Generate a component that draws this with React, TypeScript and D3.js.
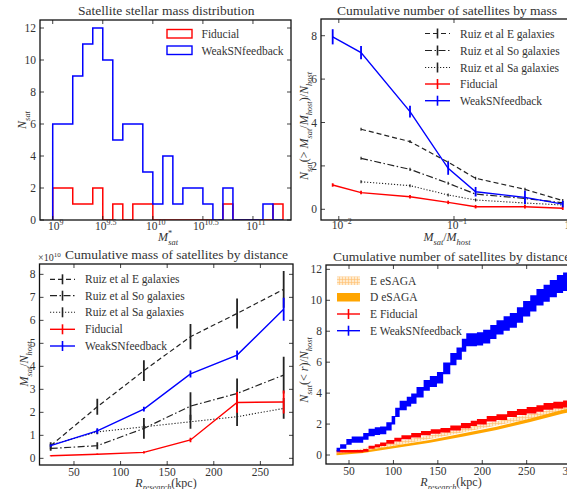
import React from 'react';
import * as d3 from 'd3';

// ---------- panel 1: satellite stellar mass histogram (bin edges as log10 M)
const histEdgeExp = [9.0, 9.1, 9.2, 9.3, 9.4, 9.5, 9.6, 9.7, 9.8, 9.9, 10.0, 10.1, 10.2, 10.3, 10.4, 10.5, 10.6, 10.7, 10.8, 10.9, 11.0, 11.1, 11.2, 11.3];
const histFiducial = [2, 2, 1, 1, 2, 0, 1, 0, 1, 1, 0, 0, 0, 0, 0, 0, 0, 1, 0, 0, 0, 0, 1];
const histWeakSN = [6, 6, 9, 11, 12, 10, 5, 6, 6, 3, 1, 4, 1, 2, 2, 1, 0, 2, 0, 0, 0, 1, 0];
const massTickExp = ['9', '9.5', '10', '10.5', '11'];
const histYTicks = [0, 2, 4, 6, 8, 10, 12];

// ---------- panel 2: cumulative number by mass ratio
const massRatio = [0.00885, 0.0156, 0.0415, 0.089, 0.154, 0.413, 0.879];
const cumWeakSN = [7.95, 7.22, 4.5, 1.89, 0.81, 0.55, 0.24];
const cumWeakSNErr = [0.35, 0.3, 0.27, 0.3, 0.22, 0.3, 0.15];
const cumFiducial = [1.12, 0.77, 0.58, 0.32, 0.12, 0.12, 0.05];
const cumFiducialErr = [0.08, 0.08, 0.08, 0.08, 0.08, 0.08, 0.08];
const ruizMassRatio = [0.0156, 0.0415, 0.089, 0.154, 0.413, 0.879];
const cumRuizE = [3.69, 3.12, 2.17, 1.43, 0.92, 0.4];
const cumRuizSo = [2.35, 1.84, 1.2, 0.7, 0.5, 0.3];
const cumRuizSa = [1.27, 1.09, 0.66, 0.43, 0.29, 0.2];
const cumRuizErr = [0.07, 0.07, 0.07, 0.07, 0.07, 0.07];
const ratioTicks = [0.01, 0.1, 1];
const ratioTickExp = ['\u22122', '\u22121', '0'];
const cumYTicks = [0, 2, 4, 6, 8];

// ---------- panel 3: cumulative mass by distance (units of 1e10)
const distBins = [25, 75, 125, 175, 225, 275];
const massRuizE = [0.55, 2.24, 3.81, 5.29, 6.3, 7.35];
const massRuizEErr = [0.15, 0.35, 0.45, 0.55, 0.65, 0.8];
const massRuizSo = [0.43, 0.55, 1.3, 2.27, 2.82, 3.62];
const massRuizSoErr = [0.1, 0.15, 0.45, 0.6, 0.65, 0.8];
const massRuizSa = [0.58, 1.15, 1.37, 1.59, 1.81, 2.17];
const massRuizSaErr = [0.05, 0.1, 0.1, 0.3, 0.4, 0.45];
const massWeakSN = [0.55, 1.19, 2.14, 3.67, 4.49, 6.48];
const massWeakSNErr = [0.05, 0.12, 0.1, 0.15, 0.2, 0.5];
const massFiducial = [0.11, 0.18, 0.26, 0.8, 2.43, 2.45];
const massFiducialErr = [0.02, 0.03, 0.05, 0.1, 0.45, 0.5];
const massYTicks = [0, 1, 2, 3, 4, 5, 6, 7, 8];
const distTicks3 = [50, 100, 150, 200, 250];

// ---------- panel 4: cumulative number by distance
const rWeakSN = [36, 40, 47, 53, 60, 66, 72, 79, 85, 92, 98, 102, 107, 115, 120, 126, 134, 141, 149, 156, 164, 171, 177, 182, 188, 194, 201, 209, 216, 224, 231, 239, 246, 254, 261, 269, 276, 284, 291, 300];
const nWeakSN = [0.35, 0.55, 0.85, 1.0, 1.0, 1.2, 1.45, 1.55, 1.6, 1.85, 2.25, 2.75, 3.2, 3.45, 3.65, 4.05, 4.5, 4.75, 5.0, 5.6, 6.2, 6.55, 7.1, 7.45, 7.45, 7.5, 7.65, 7.95, 8.25, 8.5, 8.7, 9.05, 9.45, 9.8, 10.2, 10.45, 10.75, 11.05, 11.2, 11.3];
const nWeakSNErr = [0.12, 0.15, 0.18, 0.2, 0.2, 0.22, 0.24, 0.25, 0.25, 0.27, 0.28, 0.3, 0.3, 0.32, 0.33, 0.34, 0.35, 0.36, 0.37, 0.38, 0.4, 0.4, 0.42, 0.42, 0.42, 0.43, 0.44, 0.45, 0.46, 0.47, 0.48, 0.5, 0.5, 0.52, 0.53, 0.55, 0.56, 0.58, 0.6, 0.6];
const rFiducial = [36, 62, 66, 72, 79, 85, 92, 101, 109, 120, 131, 142, 153, 164, 176, 187, 194, 205, 216, 228, 239, 250, 261, 269, 280, 291, 300];
const nFiducial = [0.25, 0.25, 0.3, 0.5, 0.6, 0.7, 0.85, 1.0, 1.15, 1.28, 1.42, 1.52, 1.6, 1.75, 1.9, 2.05, 2.15, 2.35, 2.45, 2.65, 2.78, 2.9, 3.0, 3.15, 3.22, 3.3, 3.35];
const nFiducialErr = [0.08, 0.08, 0.09, 0.1, 0.1, 0.11, 0.12, 0.12, 0.13, 0.14, 0.14, 0.15, 0.15, 0.16, 0.17, 0.17, 0.18, 0.18, 0.19, 0.2, 0.2, 0.21, 0.21, 0.22, 0.22, 0.23, 0.23];
const rSaga = [36, 66, 104, 141, 179, 216, 254, 291, 300];
const nSagaD = [0.05, 0.2, 0.55, 0.88, 1.3, 1.72, 2.25, 2.8, 2.9];
const nSagaDErr = [0.06, 0.07, 0.08, 0.09, 0.1, 0.1, 0.11, 0.12, 0.12];
const nSagaE = [0.1, 0.32, 0.75, 1.15, 1.6, 2.05, 2.5, 2.95, 3.05];
const nSagaEErr = [0.08, 0.1, 0.12, 0.12, 0.13, 0.14, 0.15, 0.16, 0.16];
const numYTicks = [0, 2, 4, 6, 8, 10, 12];
const distTicks4 = [50, 100, 150, 200, 250, 300];

const FONT = "'Liberation Serif', 'DejaVu Serif', serif";
const TXT = '#333';
const BLK = '#222';

type Box = { x0: number; x1: number; y0: number; y1: number };
type Part = { t: string; it?: boolean; sub?: boolean; sup?: boolean; dx?: number };

// mathtext-like label built from tspans
function MathT({ parts, size }: { parts: Part[]; size: number }) {
  let shift = 0;
  const out = parts.map((p, i) => {
    const target = p.sub ? size * 0.3 : p.sup ? -size * 0.42 : 0;
    const dy = target - shift;
    shift = target;
    return (
      <tspan key={i} dy={dy} dx={p.dx || 0} fontStyle={p.it ? 'italic' : 'normal'}
        fontSize={p.sub || p.sup ? size * 0.7 : size}>{p.t}</tspan>
    );
  });
  return <>{out}</>;
}

function Frame({ b }: { b: Box }) {
  return <rect x={b.x0} y={b.y0} width={b.x1 - b.x0} height={b.y1 - b.y0} fill="none" stroke="#111" strokeWidth={1.3} />;
}

function Ticks({ b, xs, ys }: { b: Box; xs: number[]; ys: number[] }) {
  return (
    <g stroke="#111" strokeWidth={0.8}>
      {xs.map((x, i) => <g key={'x' + i}>
        <line x1={x} x2={x} y1={b.y1} y2={b.y1 - 4} />
        <line x1={x} x2={x} y1={b.y0} y2={b.y0 + 4} />
      </g>)}
      {ys.map((y, i) => <g key={'y' + i}>
        <line x1={b.x0} x2={b.x0 + 4} y1={y} y2={y} />
        <line x1={b.x1} x2={b.x1 - 4} y1={y} y2={y} />
      </g>)}
    </g>
  );
}

function YLabels({ b, sy, ticks }: { b: Box; sy: (v: number) => number; ticks: number[] }) {
  return <g fontSize={11.5} fill={TXT} textAnchor="end">
    {ticks.map(t => <text key={t} x={b.x0 - 4} y={sy(t) + 4}>{t}</text>)}
  </g>;
}

function ErrSeries({ xs, ys, errs, sx, sy, color, dash, lw = 1.4, ew = 1.8 }: any) {
  const pts = xs.map((x: number, i: number) => [sx(x), sy(ys[i])] as [number, number]);
  const d = d3.line()(pts) || '';
  return (
    <g>
      <path d={d} fill="none" stroke={color} strokeWidth={lw} strokeDasharray={dash} />
      {xs.map((x: number, i: number) => (
        <line key={i} x1={sx(x)} x2={sx(x)} y1={sy(ys[i] - errs[i])} y2={sy(ys[i] + errs[i])} stroke={color} strokeWidth={ew} />
      ))}
    </g>
  );
}

function Band({ xs, ys, errs, sx, sy, fill, step }: any) {
  const area = d3.area<number>()
    .x((_, i) => sx(xs[i]))
    .y0((_, i) => sy(ys[i] - errs[i]))
    .y1((_, i) => sy(ys[i] + errs[i]))
    .curve(step ? d3.curveStepAfter : d3.curveLinear);
  return <path d={area(xs) || ''} fill={fill} stroke="none" />;
}

function LegendLine({ x, y, w, color, dash, label, lw = 1.4 }: any) {
  return (
    <g>
      <line x1={x} x2={x + w} y1={y} y2={y} stroke={color} strokeWidth={lw} strokeDasharray={dash} />
      <line x1={x + w / 2} x2={x + w / 2} y1={y - 5} y2={y + 5} stroke={color} strokeWidth={1.6} />
      <text x={x + w + 10} y={y + 4} fontSize={11.5} fill={TXT}>{label}</text>
    </g>
  );
}

export default function App() {
  const W = 567, H = 489;

  // ---- panel 1
  const b1: Box = { x0: 40, x1: 291, y0: 20, y1: 220 };
  const sx1 = d3.scaleLog().domain([10 ** 8.873, 10 ** 11.38]).range([b1.x0, b1.x1]);
  const sy1 = d3.scaleLinear().domain([0, 12.5]).range([b1.y1, b1.y0]);
  const stepPath = (counts: number[]) => {
    const pts: [number, number][] = [[sx1(10 ** histEdgeExp[0]), sy1(0)]];
    counts.forEach((c, i) => {
      pts.push([sx1(10 ** histEdgeExp[i]), sy1(c)]);
      pts.push([sx1(10 ** histEdgeExp[i + 1]), sy1(c)]);
    });
    pts.push([sx1(10 ** histEdgeExp[counts.length]), sy1(0)]);
    return d3.line()(pts) || '';
  };

  // ---- panel 2
  const b2: Box = { x0: 321, x1: 572, y0: 19, y1: 220 };
  const sx2 = d3.scaleLog().domain([10 ** -2.1545, 10 ** 0.0243]).range([b2.x0, b2.x1]);
  const sy2 = d3.scaleLinear().domain([-0.493, 8.77]).range([b2.y1, b2.y0]);

  // ---- panel 3
  const b3: Box = { x0: 39.5, x1: 293, y0: 264, y1: 465 };
  const sx3 = d3.scaleLinear().domain([13, 285]).range([b3.x0, b3.x1]);
  const sy3 = d3.scaleLinear().domain([-0.29, 8.45]).range([b3.y1, b3.y0]);

  // ---- panel 4
  const b4: Box = { x0: 326, x1: 575, y0: 265, y1: 464 };
  const sx4 = d3.scaleLinear().domain([24.1, 304.4]).range([b4.x0, b4.x1]);
  const sy4 = d3.scaleLinear().domain([-0.58, 12.28]).range([b4.y1, b4.y0]);

  const dashE = '5,3';
  const dashSo = '7,2.5,1.5,2.5';
  const dashSa = '1.2,1.8';

  return (
    <div style={{ position: 'absolute', left: 0, top: 0 }}>
      <svg width={W} height={H} style={{ display: 'block', background: '#fff', fontFamily: FONT }}>
        <defs>
          {[b1, b2, b3, b4].map((b, i) => (
            <clipPath key={i} id={'clip' + i}>
              <rect x={b.x0} y={b.y0} width={b.x1 - b.x0} height={b.y1 - b.y0} />
            </clipPath>
          ))}
          <pattern id="hatch" width={3} height={3} patternUnits="userSpaceOnUse">
            <rect width={3} height={3} fill="#ffeacc" />
            <path d="M0 0.5H3M0.5 0V3" stroke="#ffbe6e" strokeWidth={0.6} />
          </pattern>
        </defs>

        {/* ============ panel 1 ============ */}
        <text x={78} y={15} fontSize={13.5} fill={TXT}>Satellite stellar mass distribution</text>
        <g clipPath="url(#clip0)">
          <path d={stepPath(histFiducial)} fill="none" stroke="#ff0000" strokeWidth={1.5} />
          <path d={stepPath(histWeakSN)} fill="none" stroke="#0000ff" strokeWidth={1.5} />
        </g>
        <Ticks b={b1} xs={massTickExp.map(e => sx1(10 ** parseFloat(e)))} ys={histYTicks.map(sy1)} />
        <Frame b={b1} />
        <YLabels b={b1} sy={sy1} ticks={histYTicks} />
        <g fontSize={11.5} fill={TXT} textAnchor="middle">
          {massTickExp.map(e => (
            <text key={e} x={sx1(10 ** parseFloat(e)) + 3} y={b1.y1 + 9.5}>
              <MathT size={11.5} parts={[{ t: '10' }, { t: e, sup: true }]} />
            </text>
          ))}
        </g>
        <text x={168} y={241} fontSize={12} fill={TXT} textAnchor="middle">
          <MathT size={12} parts={[{ t: 'M', it: true }, { t: '*', sup: true }, { t: 'sat', sub: true, it: true, dx: -4 }]} />
        </text>
        <text transform={`translate(26,${(b1.y0 + b1.y1) / 2}) rotate(-90)`} fontSize={12} fill={TXT} textAnchor="middle">
          <MathT size={12} parts={[{ t: 'N', it: true }, { t: 'sat', sub: true, it: true }]} />
        </text>
        <g>
          <rect x={167} y={29.5} width={25} height={8.5} fill="none" stroke="#ff0000" strokeWidth={1.4} />
          <text x={201.5} y={38} fontSize={11.5} fill={TXT}>Fiducial</text>
          <rect x={167} y={46} width={25} height={8.5} fill="none" stroke="#0000ff" strokeWidth={1.4} />
          <text x={201.5} y={54.5} fontSize={11.5} fill={TXT}>WeakSNfeedback</text>
        </g>

        {/* ============ panel 2 ============ */}
        <text x={337} y={15} fontSize={13.5} fill={TXT}>Cumulative number of satellites by mass</text>
        <g clipPath="url(#clip1)">
          <ErrSeries xs={ruizMassRatio} ys={cumRuizSa} errs={cumRuizErr} sx={sx2} sy={sy2} color={BLK} dash={dashSa} lw={1.1} ew={1.2} />
          <ErrSeries xs={ruizMassRatio} ys={cumRuizSo} errs={cumRuizErr} sx={sx2} sy={sy2} color={BLK} dash={dashSo} lw={1.2} ew={1.2} />
          <ErrSeries xs={ruizMassRatio} ys={cumRuizE} errs={cumRuizErr} sx={sx2} sy={sy2} color={BLK} dash={dashE} lw={1.2} ew={1.2} />
          <ErrSeries xs={massRatio} ys={cumFiducial} errs={cumFiducialErr} sx={sx2} sy={sy2} color="#ff0000" />
          <ErrSeries xs={massRatio} ys={cumWeakSN} errs={cumWeakSNErr} sx={sx2} sy={sy2} color="#0000ff" />
        </g>
        <Ticks b={b2} xs={ratioTicks.map(sx2)} ys={cumYTicks.map(sy2)} />
        <Frame b={b2} />
        <YLabels b={b2} sy={sy2} ticks={cumYTicks} />
        <g fontSize={11.5} fill={TXT} textAnchor="middle">
          {ratioTicks.map((t, i) => (
            <text key={t} x={sx2(t) + 3} y={b2.y1 + 9}>
              <MathT size={11.5} parts={[{ t: '10' }, { t: ratioTickExp[i], sup: true }]} />
            </text>
          ))}
        </g>
        <text x={447} y={241} fontSize={12} fill={TXT} textAnchor="middle">
          <MathT size={12} parts={[{ t: 'M', it: true }, { t: 'sat', sub: true, it: true }, { t: '/' }, { t: 'M', it: true }, { t: 'host', sub: true, it: true }]} />
        </text>
        <text transform={`translate(308,126) rotate(-90)`} fontSize={12} fill={TXT} textAnchor="middle">
          <MathT size={12} parts={[{ t: 'N', it: true }, { t: 'sat', sub: true, it: true }, { t: '(> ' }, { t: 'M', it: true }, { t: 'sat', sub: true, it: true }, { t: '/' }, { t: 'M', it: true }, { t: 'host', sub: true, it: true }, { t: ')/' }, { t: 'N', it: true }, { t: 'host', sub: true, it: true }]} />
        </text>
        <g>
          <LegendLine x={425} y={33.5} w={25} color={BLK} dash={dashE} lw={1.2} label="Ruiz et al E galaxies" />
          <LegendLine x={425} y={50.5} w={25} color={BLK} dash={dashSo} lw={1.2} label="Ruiz et al So galaxies" />
          <LegendLine x={425} y={67.5} w={25} color={BLK} dash={dashSa} lw={1.1} label="Ruiz et al Sa galaxies" />
          <LegendLine x={425} y={84} w={25} color="#ff0000" label="Fiducial" />
          <LegendLine x={425} y={100.7} w={25} color="#0000ff" label="WeakSNfeedback" />
        </g>

        {/* ============ panel 3 ============ */}
        <text x={65} y={259} fontSize={13.5} fill={TXT}>Cumulative mass of satellites by distance</text>
        <text x={38} y={261} fontSize={10} fill={TXT}>
          <MathT size={10} parts={[{ t: '\u00d710' }, { t: '10', sup: true }]} />
        </text>
        <g clipPath="url(#clip2)">
          <ErrSeries xs={distBins} ys={massRuizSa} errs={massRuizSaErr} sx={sx3} sy={sy3} color={BLK} dash={dashSa} lw={1.1} ew={1.8} />
          <ErrSeries xs={distBins} ys={massRuizSo} errs={massRuizSoErr} sx={sx3} sy={sy3} color={BLK} dash={dashSo} lw={1.2} ew={1.8} />
          <ErrSeries xs={distBins} ys={massRuizE} errs={massRuizEErr} sx={sx3} sy={sy3} color={BLK} dash={dashE} lw={1.2} ew={1.8} />
          <ErrSeries xs={distBins} ys={massFiducial} errs={massFiducialErr} sx={sx3} sy={sy3} color="#ff0000" />
          <ErrSeries xs={distBins} ys={massWeakSN} errs={massWeakSNErr} sx={sx3} sy={sy3} color="#0000ff" />
        </g>
        <Ticks b={b3} xs={distTicks3.map(sx3)} ys={massYTicks.map(sy3)} />
        <Frame b={b3} />
        <YLabels b={b3} sy={sy3} ticks={massYTicks} />
        <g fontSize={11.5} fill={TXT} textAnchor="middle">
          {distTicks3.map(t => <text key={t} x={sx3(t)} y={b3.y1 + 10.5}>{t}</text>)}
        </g>
        <text x={166} y={486.5} fontSize={12} fill={TXT} textAnchor="middle">
          <MathT size={12} parts={[{ t: 'R', it: true }, { t: 'research', sub: true, it: true }, { t: '(kpc)' }]} />
        </text>
        <text transform={`translate(28,364) rotate(-90)`} fontSize={12} fill={TXT} textAnchor="middle">
          <MathT size={12} parts={[{ t: 'M', it: true }, { t: 'sat', sub: true, it: true }, { t: '/' }, { t: 'N', it: true }, { t: 'host', sub: true, it: true }]} />
        </text>
        <g>
          <LegendLine x={50} y={279.3} w={25} color={BLK} dash={dashE} lw={1.2} label="Ruiz et al E galaxies" />
          <LegendLine x={50} y={295.7} w={25} color={BLK} dash={dashSo} lw={1.2} label="Ruiz et al So galaxies" />
          <LegendLine x={50} y={312.3} w={25} color={BLK} dash={dashSa} lw={1.1} label="Ruiz et al Sa galaxies" />
          <LegendLine x={50} y={329.3} w={25} color="#ff0000" label="Fiducial" />
          <LegendLine x={50} y={346} w={25} color="#0000ff" label="WeakSNfeedback" />
        </g>

        {/* ============ panel 4 ============ */}
        <text x={333} y={261} fontSize={13.5} fill={TXT}>Cumulative number of satellites by distance</text>
        <g clipPath="url(#clip3)">
          <Band xs={rSaga} ys={nSagaE} errs={nSagaEErr} sx={sx4} sy={sy4} fill="url(#hatch)" />
          <Band xs={rSaga} ys={nSagaD} errs={nSagaDErr} sx={sx4} sy={sy4} fill="#ffa500" />
          <Band xs={rFiducial} ys={nFiducial} errs={nFiducialErr} sx={sx4} sy={sy4} fill="#ff0000" step />
          <Band xs={rWeakSN} ys={nWeakSN} errs={nWeakSNErr} sx={sx4} sy={sy4} fill="#0000ff" step />
        </g>
        <Ticks b={b4} xs={distTicks4.map(sx4)} ys={numYTicks.map(sy4)} />
        <Frame b={b4} />
        <YLabels b={b4} sy={sy4} ticks={numYTicks} />
        <g fontSize={11.5} fill={TXT} textAnchor="middle">
          {distTicks4.map(t => <text key={t} x={sx4(t)} y={b4.y1 + 10.5}>{t}</text>)}
        </g>
        <text x={451} y={486} fontSize={12} fill={TXT} textAnchor="middle">
          <MathT size={12} parts={[{ t: 'R', it: true }, { t: 'research', sub: true, it: true }, { t: '(kpc)' }]} />
        </text>
        <text transform={`translate(308,370) rotate(-90)`} fontSize={12} fill={TXT} textAnchor="middle">
          <MathT size={12} parts={[{ t: 'N', it: true }, { t: 'sat', sub: true, it: true }, { t: '(< ' }, { t: 'r', it: true }, { t: ')/' }, { t: 'N', it: true }, { t: 'host', sub: true, it: true }]} />
        </text>
        <g>
          <rect x={337} y={276.5} width={23} height={8.5} fill="url(#hatch)" />
          <text x={370} y={284.7} fontSize={11.5} fill={TXT}>E eSAGA</text>
          <rect x={337} y={293} width={23} height={8.5} fill="#ffa500" />
          <text x={370} y={301.3} fontSize={11.5} fill={TXT}>D eSAGA</text>
          <LegendLine x={337} y={314} w={23} color="#ff0000" label="E Fiducial" />
          <LegendLine x={337} y={330.7} w={23} color="#0000ff" label="E WeakSNfeedback" />
        </g>
      </svg>
    </div>
  );
}
